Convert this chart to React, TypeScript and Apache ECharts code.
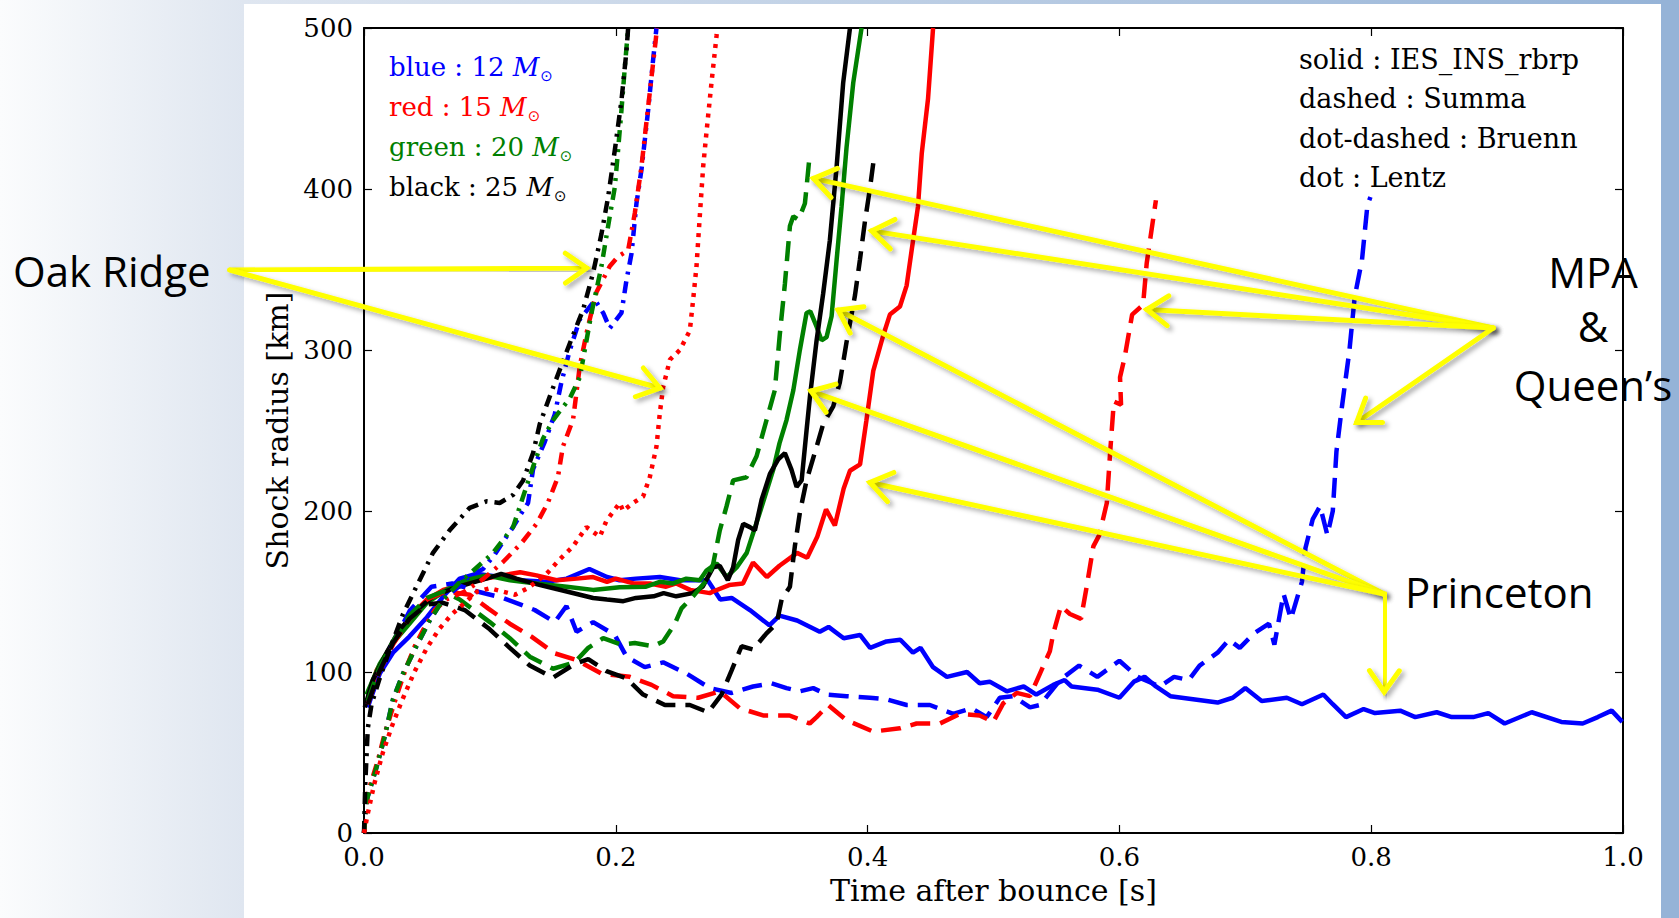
import React, { useEffect, useRef } from "react";
import * as echarts from "echarts";

type Pt = [number, number];

// ---------- axis ticks ----------
const xTickStep = 0.2;
const yTickStep = 100;
const xRange: Pt = [0, 1];
const yRange: Pt = [0, 500];

// ---------- colours (progenitor masses) ----------
const BLUE = "#0000ff";
const RED = "#ff0000";
const GREEN = "#008000";
const BLACK = "#000000";

// ---------- solid : IES_INS_rbrp (Princeton) ----------
const blueSolid: Pt[] = [
  [0.003, 78], [0.006, 85], [0.0125, 99], [0.023, 112], [0.036, 122], [0.05, 134], [0.063, 147], [0.076, 158],
  [0.089, 161], [0.108, 159], [0.124, 157], [0.145, 156], [0.161, 158], [0.179, 164], [0.193, 159], [0.203, 157],
  [0.216, 158], [0.235, 159], [0.251, 157], [0.273, 157], [0.283, 145], [0.292, 146], [0.3065, 138.5], [0.322, 129],
  [0.33, 135], [0.344, 132], [0.362, 125], [0.369, 128], [0.381, 121], [0.394, 123], [0.402, 115], [0.415, 119],
  [0.426, 120], [0.436, 112], [0.442, 115], [0.452, 103], [0.463, 97], [0.479, 100], [0.489, 93], [0.497, 94],
  [0.5105, 88], [0.524, 91], [0.534, 86], [0.5475, 92], [0.5565, 95], [0.562, 91], [0.5825, 89], [0.6, 84],
  [0.6115, 94], [0.62, 97], [0.629, 91], [0.6405, 85], [0.678, 81], [0.69, 84], [0.7, 90], [0.713, 82],
  [0.733, 84], [0.745, 80], [0.762, 86], [0.7695, 80], [0.78, 72], [0.794, 77], [0.803, 74.5], [0.823, 76],
  [0.835, 72], [0.852, 75], [0.864, 72], [0.881, 72], [0.893, 74.5], [0.906, 68], [0.9275, 75], [0.951, 69],
  [0.968, 68], [0.98, 72], [0.991, 76], [0.9994, 69],
];
const redSolid: Pt[] = [
  [0.002, 80], [0.01, 101], [0.023, 118], [0.036, 134], [0.05, 145], [0.063, 151], [0.076, 154], [0.097, 158],
  [0.11, 160], [0.124, 162], [0.137, 160], [0.153, 157], [0.169, 158], [0.182, 159], [0.193, 156], [0.2, 158],
  [0.214, 155], [0.227, 155], [0.24, 153], [0.248, 155], [0.259, 151], [0.2747, 149], [0.2773, 150], [0.29, 154],
  [0.301, 155], [0.309, 168], [0.32, 159], [0.33, 166], [0.344, 174], [0.352, 171], [0.36, 184], [0.367, 201],
  [0.374, 191], [0.381, 214], [0.386, 225], [0.394, 229], [0.399, 256], [0.4045, 287], [0.4124, 309],
  [0.4177, 322], [0.4257, 327], [0.431, 340], [0.435, 362], [0.44, 389], [0.443, 422], [0.448, 456], [0.452, 500],
];
const greenSolid: Pt[] = [
  [0.002, 86], [0.0125, 105], [0.023, 118], [0.036, 130], [0.05, 143], [0.0655, 151], [0.081, 157], [0.097, 160],
  [0.116, 157], [0.137, 155], [0.161, 153], [0.182, 151], [0.203, 152.6], [0.224, 153], [0.235, 156],
  [0.2455, 155], [0.256, 158], [0.2667, 157], [0.272, 163], [0.28, 167.5], [0.288, 159], [0.296, 165],
  [0.304, 174], [0.309, 186], [0.3144, 199], [0.32, 213], [0.325, 225.5], [0.33, 242], [0.3356, 256.5],
  [0.341, 275], [0.3462, 300], [0.3515, 323], [0.3545, 324], [0.3595, 314.5], [0.3634, 306], [0.3674, 308],
  [0.3714, 321], [0.3754, 356], [0.3793, 389], [0.3833, 426], [0.3886, 466], [0.3952, 500],
];
const blackSolid: Pt[] = [
  [0.0006, 78], [0.007, 95], [0.018, 112], [0.028, 126], [0.042, 138.5], [0.055, 147], [0.071, 152], [0.084, 155],
  [0.097, 158], [0.109, 161], [0.121, 158], [0.14, 154], [0.161, 150], [0.182, 146], [0.193, 145], [0.206, 144],
  [0.216, 146], [0.23, 147], [0.238, 149], [0.248, 147], [0.261, 149], [0.269, 153], [0.2773, 165], [0.2826, 166],
  [0.289, 157], [0.2932, 165], [0.2972, 182], [0.3012, 192], [0.3065, 190], [0.3105, 188], [0.3158, 207],
  [0.3224, 223], [0.329, 232], [0.3343, 236], [0.3396, 225.5], [0.3436, 215], [0.3476, 219], [0.3515, 250],
  [0.3542, 271], [0.3595, 306], [0.3647, 335], [0.37, 368], [0.3754, 414], [0.3806, 466], [0.386, 500],
];

// ---------- dashed : Summa (MPA & Queen's) ----------
const blueDashed: Pt[] = [
  [0.003, 80], [0.012, 100], [0.023, 118], [0.0363, 138], [0.0536, 153], [0.07, 155], [0.09, 150], [0.1105, 146],
  [0.1356, 138.5], [0.1515, 131], [0.1608, 141], [0.1688, 125], [0.182, 131], [0.1992, 123], [0.2085, 109.5],
  [0.223, 103], [0.2376, 106], [0.2562, 99], [0.2747, 90], [0.292, 87], [0.309, 91], [0.3237, 93], [0.3356, 90],
  [0.3462, 88], [0.3568, 90], [0.3674, 86], [0.3833, 85], [0.4018, 84], [0.415, 83], [0.431, 79.5], [0.4495, 79.5],
  [0.468, 74], [0.4826, 77.5], [0.4946, 72], [0.505, 84], [0.5157, 85], [0.529, 78], [0.5369, 79.5], [0.5528, 95],
  [0.568, 104], [0.5825, 97], [0.6, 107], [0.6145, 97], [0.632, 91], [0.6434, 97], [0.655, 95], [0.6637, 104],
  [0.678, 112], [0.687, 120], [0.6956, 115], [0.707, 124], [0.7188, 130], [0.7231, 117], [0.7304, 148.5],
  [0.7362, 133], [0.745, 156], [0.7478, 177], [0.7536, 195], [0.7594, 203], [0.7652, 185], [0.7695, 200],
  [0.7724, 237], [0.7768, 265], [0.7826, 299], [0.7869, 333], [0.7927, 356], [0.797, 390], [0.7994, 395],
];
const redDashed: Pt[] = [
  [0.003, 80], [0.012, 100], [0.023, 117], [0.036, 133], [0.05, 145], [0.065, 150], [0.084, 148], [0.0985, 139.5],
  [0.1158, 130], [0.133, 122], [0.1515, 111.6], [0.1688, 107.5], [0.1886, 99], [0.2111, 97], [0.2284, 92],
  [0.2455, 85], [0.2654, 84], [0.2826, 88], [0.2985, 77.5], [0.317, 73], [0.338, 73], [0.354, 68], [0.3595, 72],
  [0.3687, 79.5], [0.3833, 70], [0.4045, 63], [0.4257, 65], [0.4389, 68], [0.4574, 68], [0.4733, 74], [0.489, 73],
  [0.4998, 69], [0.5077, 80.5], [0.5184, 87], [0.529, 85], [0.5369, 99], [0.5448, 113], [0.5475, 124],
  [0.5536, 141], [0.5607, 136], [0.5695, 133], [0.574, 153], [0.5793, 178], [0.584, 185], [0.59, 205],
  [0.5927, 237], [0.5956, 268], [0.6013, 266], [0.6005, 283], [0.6043, 296], [0.6101, 322], [0.6188, 328],
  [0.6217, 354], [0.626, 377], [0.629, 393],
];
const greenDashed: Pt[] = [
  [0.003, 82], [0.012, 102], [0.023, 119], [0.036, 135], [0.05, 146], [0.063, 150], [0.076, 145], [0.0999, 131],
  [0.1158, 121], [0.1317, 109.5], [0.1502, 102], [0.1674, 106], [0.1781, 115], [0.19, 121], [0.2045, 117],
  [0.2151, 118], [0.2296, 116], [0.2376, 119], [0.2469, 130], [0.2522, 139.5], [0.2614, 147], [0.272, 157],
  [0.2773, 167], [0.2826, 188], [0.288, 203], [0.2932, 219], [0.3039, 221], [0.3065, 225.5], [0.3118, 234],
  [0.3197, 256.5], [0.3263, 275], [0.3303, 310], [0.3343, 341], [0.3383, 377], [0.341, 383], [0.345, 381],
  [0.3462, 383], [0.3502, 391], [0.3515, 401], [0.3536, 418],
];
const blackDashed: Pt[] = [
  [0.003, 80], [0.012, 100], [0.023, 118], [0.036, 133], [0.05, 142], [0.0628, 143], [0.08, 138.5], [0.0999, 126.5],
  [0.1158, 115], [0.1317, 104], [0.1502, 96.5], [0.1674, 105], [0.1781, 108], [0.1926, 100.6], [0.2085, 96],
  [0.2217, 86], [0.239, 79.5], [0.2588, 79.5], [0.2733, 75], [0.284, 86], [0.292, 101], [0.2999, 116],
  [0.309, 114], [0.3197, 124], [0.3277, 130], [0.3317, 145], [0.3383, 153], [0.3422, 178], [0.3462, 199],
  [0.3515, 219], [0.3595, 240], [0.3647, 254], [0.3727, 265], [0.378, 280], [0.3833, 305], [0.39, 334],
  [0.3939, 356], [0.3979, 380], [0.4018, 400], [0.4045, 416],
];

// ---------- dot-dashed : Bruenn (Oak Ridge) ----------
const blackDotDash: Pt[] = [
  [0, 0], [0.001, 30], [0.003, 65], [0.006, 80], [0.012, 95], [0.02, 113], [0.031, 136], [0.0416, 153],
  [0.0548, 174], [0.068, 188], [0.084, 202], [0.0973, 206], [0.1078, 205], [0.1184, 210], [0.1264, 219],
  [0.1343, 236], [0.1396, 254], [0.1489, 274], [0.158, 293], [0.1674, 312], [0.174, 325], [0.182, 348],
  [0.1886, 372], [0.1939, 395], [0.1992, 424], [0.2045, 455], [0.2085, 486], [0.2098, 500],
];
const greenDotDash: Pt[] = [
  [0, 0], [0.002, 20], [0.01, 41], [0.0165, 60], [0.023, 83], [0.031, 99], [0.0416, 116], [0.0522, 132],
  [0.0628, 145], [0.075, 155], [0.084, 161], [0.1025, 174], [0.1184, 190], [0.1264, 209], [0.1343, 227.5],
  [0.1422, 245], [0.1502, 256.5], [0.1555, 262], [0.1635, 270], [0.1714, 283], [0.1807, 323], [0.1886, 352],
  [0.1952, 383], [0.1992, 401], [0.2018, 424], [0.2045, 449], [0.2072, 476], [0.2098, 500],
];
const blueDotDash: Pt[] = [
  [0, 0], [0.002, 20], [0.01, 41], [0.0165, 60], [0.023, 83], [0.031, 99], [0.0416, 116], [0.0522, 132],
  [0.0628, 145], [0.075, 153], [0.084, 160], [0.0946, 164], [0.1039, 173], [0.1131, 184], [0.1184, 190],
  [0.1237, 197], [0.1303, 205], [0.1343, 226], [0.1436, 243], [0.1515, 260], [0.1568, 280], [0.1635, 300],
  [0.1714, 319], [0.1835, 331], [0.19, 323], [0.1952, 313.5], [0.2045, 323], [0.2085, 343.5], [0.2125, 360],
  [0.2164, 391], [0.2204, 412], [0.2257, 449], [0.2296, 480], [0.2323, 500],
];
const redDotDash: Pt[] = [
  [0, 0], [0.003, 25], [0.011, 45], [0.0165, 62], [0.023, 78], [0.0284, 91], [0.0337, 103], [0.0403, 116],
  [0.0482, 128], [0.0562, 138.5], [0.0655, 145], [0.08, 150], [0.095, 158], [0.11, 168], [0.125, 180],
  [0.137, 192], [0.146, 205], [0.154, 221], [0.158, 240], [0.1661, 257], [0.1714, 290], [0.178, 315],
  [0.1847, 336], [0.1952, 352], [0.2018, 358], [0.2098, 362], [0.2151, 385], [0.2204, 414], [0.2257, 451],
  [0.2296, 478], [0.2328, 500],
];

// ---------- dot : Lentz (Oak Ridge) ----------
const redDotted: Pt[] = [
  [0, 0], [0.003, 12], [0.008, 30], [0.015, 50], [0.022, 66], [0.03, 82], [0.04, 100], [0.05, 115], [0.06, 127],
  [0.07, 136], [0.08, 143], [0.09, 150], [0.1, 152], [0.11, 150], [0.12, 148], [0.13, 152], [0.14, 158],
  [0.145, 161], [0.1555, 170], [0.166, 178], [0.1767, 190], [0.1873, 184], [0.1926, 194], [0.2032, 205],
  [0.2058, 200], [0.2137, 205], [0.2217, 209], [0.227, 221], [0.2323, 240], [0.235, 261], [0.2376, 277],
  [0.243, 294], [0.2509, 300], [0.2588, 312], [0.2614, 331], [0.2641, 352], [0.2667, 383], [0.2694, 414],
  [0.272, 435], [0.276, 466], [0.28, 495], [0.2805, 500],
];

// ---------- legends & annotations ----------
const massLegend = [
  { label: "blue : 12 ", color: BLUE },
  { label: "red : 15 ", color: RED },
  { label: "green : 20 ", color: GREEN },
  { label: "black : 25 ", color: BLACK },
];
const styleLegend = ["solid : IES_INS_rbrp", "dashed : Summa", "dot-dashed : Bruenn", "dot : Lentz"];

// arrow anchors in data coordinates (origin -> tip)
const oakOrigin: Pt = [-0.1067, 349.7];
const oakTips: Pt[] = [[0.1769, 350.9], [0.235, 276.4]];
const mpaOrigin: Pt = [0.8969, 313.7];
const mpaTips: Pt[] = [[0.357, 406.6], [0.4032, 374], [0.6217, 325.1], [0.7884, 255]];
const prOrigin: Pt = [0.8103, 148.4];
const prTips: Pt[] = [[0.3766, 324.8], [0.355, 274.5], [0.4018, 217.7], [0.8103, 87.6]];

const SERIES = [
  { data: blueSolid, color: BLUE, kind: "solid" },
  { data: redSolid, color: RED, kind: "solid" },
  { data: greenSolid, color: GREEN, kind: "solid" },
  { data: blackSolid, color: BLACK, kind: "solid" },
  { data: blueDashed, color: BLUE, kind: "dashed" },
  { data: redDashed, color: RED, kind: "dashed" },
  { data: greenDashed, color: GREEN, kind: "dashed" },
  { data: blackDashed, color: BLACK, kind: "dashed" },
  { data: blueDotDash, color: BLUE, kind: "dotdash" },
  { data: redDotDash, color: RED, kind: "dotdash" },
  { data: greenDotDash, color: GREEN, kind: "dotdash" },
  { data: blackDotDash, color: BLACK, kind: "dotdash" },
  { data: redDotted, color: RED, kind: "dotted" },
];

const DASHES: Record<string, any> = {
  solid: "solid",
  dashed: [20, 10],
  dotdash: [12, 7, 3, 7],
  dotted: [4, 6],
};

const SERIF = "'DejaVu Serif', serif";
const SANS = "'Open Sans', 'Noto Sans', sans-serif";

const GRID = { left: 364, top: 28, width: 1259, height: 805 };

export default function App() {
  const ref = useRef<HTMLDivElement>(null);

  useEffect(() => {
    if (!ref.current) return;
    const chart = echarts.init(ref.current, undefined, { renderer: "svg" });

    const axisLine = { show: true, onZero: false, lineStyle: { color: "#000", width: 2 } };
    const axisTick = { show: true, inside: true, length: 8, lineStyle: { color: "#000", width: 1.2 } };
    const tickFont = { color: "#000", fontFamily: SERIF, fontSize: 26, lineHeight: 20 };

    const option: any = {
      animation: false,
      backgroundColor: "transparent",
      grid: { ...GRID, containLabel: false },
      xAxis: [
        {
          type: "value", min: xRange[0], max: xRange[1], interval: xTickStep, position: "bottom",
          axisLine, axisTick, splitLine: { show: false },
          axisLabel: { ...tickFont, margin: 14, formatter: (v: number) => v.toFixed(1) },
          name: "Time after bounce [s]", nameLocation: "middle", nameGap: 42,
          nameTextStyle: { color: "#000", fontFamily: SERIF, fontSize: 30 },
        },
        {
          type: "value", min: xRange[0], max: xRange[1], interval: xTickStep, position: "top",
          axisLine, axisTick, splitLine: { show: false }, axisLabel: { show: false },
        },
      ],
      yAxis: [
        {
          type: "value", min: yRange[0], max: yRange[1], interval: yTickStep, position: "left",
          axisLine, axisTick, splitLine: { show: false },
          axisLabel: { ...tickFont, margin: 11 },
          name: "Shock radius [km]", nameLocation: "middle", nameGap: 72,
          nameTextStyle: { color: "#000", fontFamily: SERIF, fontSize: 30 },
        },
        {
          type: "value", min: yRange[0], max: yRange[1], interval: yTickStep, position: "right",
          axisLine, axisTick, splitLine: { show: false }, axisLabel: { show: false },
        },
      ],
      series: SERIES.map((s) => ({
        type: "line",
        data: s.data,
        xAxisIndex: 0,
        yAxisIndex: 0,
        showSymbol: false,
        symbol: "none",
        silent: true,
        clip: true,
        lineStyle: { color: s.color, width: 4.5, type: DASHES[s.kind], cap: "butt" },
      })),
    };
    chart.setOption(option);

    const px = (p: Pt) => chart.convertToPixel({ gridIndex: 0 }, p) as number[];

    const shadow = {
      shadowBlur: 5,
      shadowColor: "rgba(0,0,0,0.35)",
      shadowOffsetX: 3,
      shadowOffsetY: 3,
    };
    const arrow = (o: Pt, t: Pt) => {
      const a = px(o);
      const b = px(t);
      // keep a non-degenerate bounding box so the SVG shadow filter renders
      if (Math.abs(a[0] - b[0]) < 1) a[0] += 1;
      if (Math.abs(a[1] - b[1]) < 1) a[1] += 1;
      const dx = a[0] - b[0];
      const dy = a[1] - b[1];
      const L = Math.hypot(dx, dy);
      const ux = dx / L;
      const uy = dy / L;
      const ang = (35 * Math.PI) / 180;
      const len = 26;
      const rot = (th: number) => [
        b[0] + len * (ux * Math.cos(th) - uy * Math.sin(th)),
        b[1] + len * (ux * Math.sin(th) + uy * Math.cos(th)),
      ];
      return [
        {
          type: "line", z: 100, silent: true,
          shape: { x1: a[0], y1: a[1], x2: b[0], y2: b[1] },
          style: { stroke: "#ffff00", lineWidth: 5, lineCap: "round", ...shadow },
        },
        {
          type: "polyline", z: 100, silent: true,
          shape: { points: [rot(ang), [b[0], b[1]], rot(-ang)] },
          style: { stroke: "#ffff00", fill: null, lineWidth: 5, lineCap: "round", lineJoin: "miter", ...shadow },
        },
      ];
    };

    const graphics: any[] = [
      { type: "rect", z: -20, silent: true, shape: { x: 0, y: 0, width: 1679, height: 918 }, style: { fill: "#ffffff" } },
      {
        type: "rect", z: -19, silent: true, shape: { x: 0, y: 0, width: 244, height: 918 },
        style: {
          fill: new echarts.graphic.LinearGradient(0, 0, 1, 0, [
            { offset: 0, color: "#fbfcfd" },
            { offset: 1, color: "#dfe6f0" },
          ]),
        },
      },
      {
        type: "rect", z: -19, silent: true, shape: { x: 244, y: 0, width: 1435, height: 4 },
        style: {
          fill: new echarts.graphic.LinearGradient(0, 0, 1, 0, [
            { offset: 0, color: "#dfe6f0" },
            { offset: 1, color: "#95b3d7" },
          ]),
        },
      },
      { type: "rect", z: -19, silent: true, shape: { x: 1661, y: 0, width: 18, height: 918 }, style: { fill: "#95b3d7" } },
    ];

    massLegend.forEach((m, i) => {
      graphics.push({
        type: "text", z: 50, silent: true, x: 389, y: 67 + i * 40,
        style: {
          text: `{a|${m.label}}{m|M}{s|⊙}`,
          fill: m.color,
          align: "left",
          verticalAlign: "middle",
          rich: {
            a: { fontFamily: SERIF, fontSize: 26, fill: m.color },
            m: { fontFamily: SERIF, fontSize: 26, fontStyle: "italic", fill: m.color },
            s: { fontFamily: "'DejaVu Sans', sans-serif", fontSize: 15, fill: m.color, padding: [18, 0, 0, 1] },
          },
        },
      });
    });
    styleLegend.forEach((t, i) => {
      graphics.push({
        type: "text", z: 50, silent: true, x: 1299, y: 59 + i * 39.5,
        style: { text: t, fill: "#000", fontFamily: SERIF, fontSize: 27, align: "left", verticalAlign: "middle" },
      });
    });

    const annot = (text: string, x: number, y: number, align: string) => ({
      type: "text", z: 101, silent: true, x, y,
      style: { text, fill: "#000", fontFamily: SANS, fontSize: 42, align, verticalAlign: "middle" },
    });
    graphics.push(annot("Oak Ridge", 13, 270, "left"));
    graphics.push(annot("MPA", 1593, 271, "center"));
    graphics.push(annot("&", 1593, 325, "center"));
    graphics.push(annot("Queen’s", 1593, 384, "center"));
    graphics.push(annot("Princeton", 1405, 591, "left"));

    oakTips.forEach((t) => graphics.push(...arrow(oakOrigin, t)));
    mpaTips.forEach((t) => graphics.push(...arrow(mpaOrigin, t)));
    prTips.forEach((t) => graphics.push(...arrow(prOrigin, t)));

    chart.setOption({ graphic: { elements: graphics } });

    return () => chart.dispose();
  }, []);

  return (
    <div
      ref={ref}
      style={{ position: "fixed", left: 0, top: 0, width: 1679, height: 918, background: "#fff" }}
    />
  );
}
